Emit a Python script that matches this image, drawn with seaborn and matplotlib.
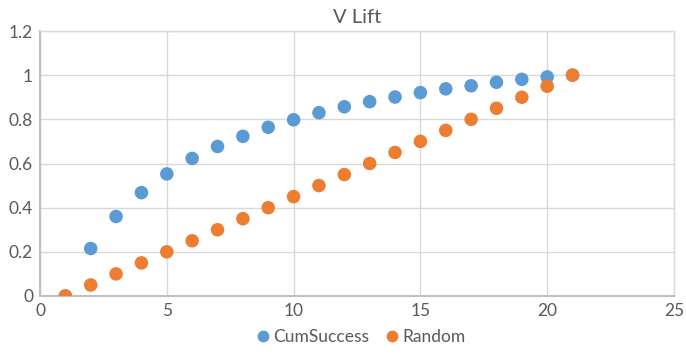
import matplotlib
matplotlib.use("Agg")
import matplotlib.pyplot as plt
import seaborn as sns
import pandas as pd

x_vals = list(range(1, 22))
cum_success = [0.0, 0.215, 0.36, 0.468, 0.553, 0.623, 0.677, 0.723, 0.764, 0.798,
               0.830, 0.857, 0.880, 0.901, 0.921, 0.938, 0.952, 0.968, 0.981, 0.992, 1.0]
random_vals = [0.0, 0.05, 0.10, 0.15, 0.20, 0.25, 0.30, 0.35, 0.40, 0.45, 0.50,
               0.55, 0.60, 0.65, 0.70, 0.75, 0.80, 0.85, 0.90, 0.95, 1.0]
series_names = ["CumSuccess", "Random"]
colors = ["#5B9BD5", "#ED7D31"]
x_ticks = [0, 5, 10, 15, 20, 25]
y_ticks = [0, 0.2, 0.4, 0.6, 0.8, 1, 1.2]
y_tick_labels = ["0", "0.2", "0.4", "0.6", "0.8", "1", "1.2"]

df = pd.DataFrame({
    "x": x_vals * 2,
    "y": cum_success + random_vals,
    "series": [series_names[0]] * len(x_vals) + [series_names[1]] * len(x_vals),
})

sns.set_style("white")
plt.rcParams["font.family"] = ["Lato", "DejaVu Sans"]
text_color = "#595959"

fig = plt.figure(figsize=(6.86, 3.57), dpi=100)
ax = fig.add_axes([40 / 686, 1 - 296 / 357, (674 - 40) / 686, (296 - 31) / 357])

sns.scatterplot(data=df, x="x", y="y", hue="series", palette=colors,
                s=95, linewidth=0, ax=ax, legend=False, zorder=3)

ax.set_xlim(0, 25)
ax.set_ylim(0, 1.2)
ax.set_xticks(x_ticks)
ax.set_yticks(y_ticks)
ax.set_yticklabels(y_tick_labels)
ax.set_xlabel("")
ax.set_ylabel("")
ax.grid(True, color="#D9D9D9", linewidth=1)
ax.set_axisbelow(True)
for side in ["top", "right"]:
    ax.spines[side].set_color("#D9D9D9")
    ax.spines[side].set_linewidth(1)
for side in ["left", "bottom"]:
    ax.spines[side].set_color("#BFBFBF")
    ax.spines[side].set_linewidth(1.5)
ax.tick_params(axis="both", length=0, labelsize=12.5, colors=text_color, pad=5)
ax.set_title("V Lift", fontsize=14.5, color=text_color, pad=6)

handles = [plt.Line2D([], [], marker="o", linestyle="", markersize=8.5,
                      markerfacecolor=c, markeredgewidth=0) for c in colors]
fig.legend(handles, series_names, loc="lower center", bbox_to_anchor=(0.525, -0.01),
           ncol=2, frameon=False, fontsize=12.5, labelcolor=text_color,
           handletextpad=0.1, columnspacing=0.8, handlelength=1.0)

fig.savefig("out.png", dpi=100)
